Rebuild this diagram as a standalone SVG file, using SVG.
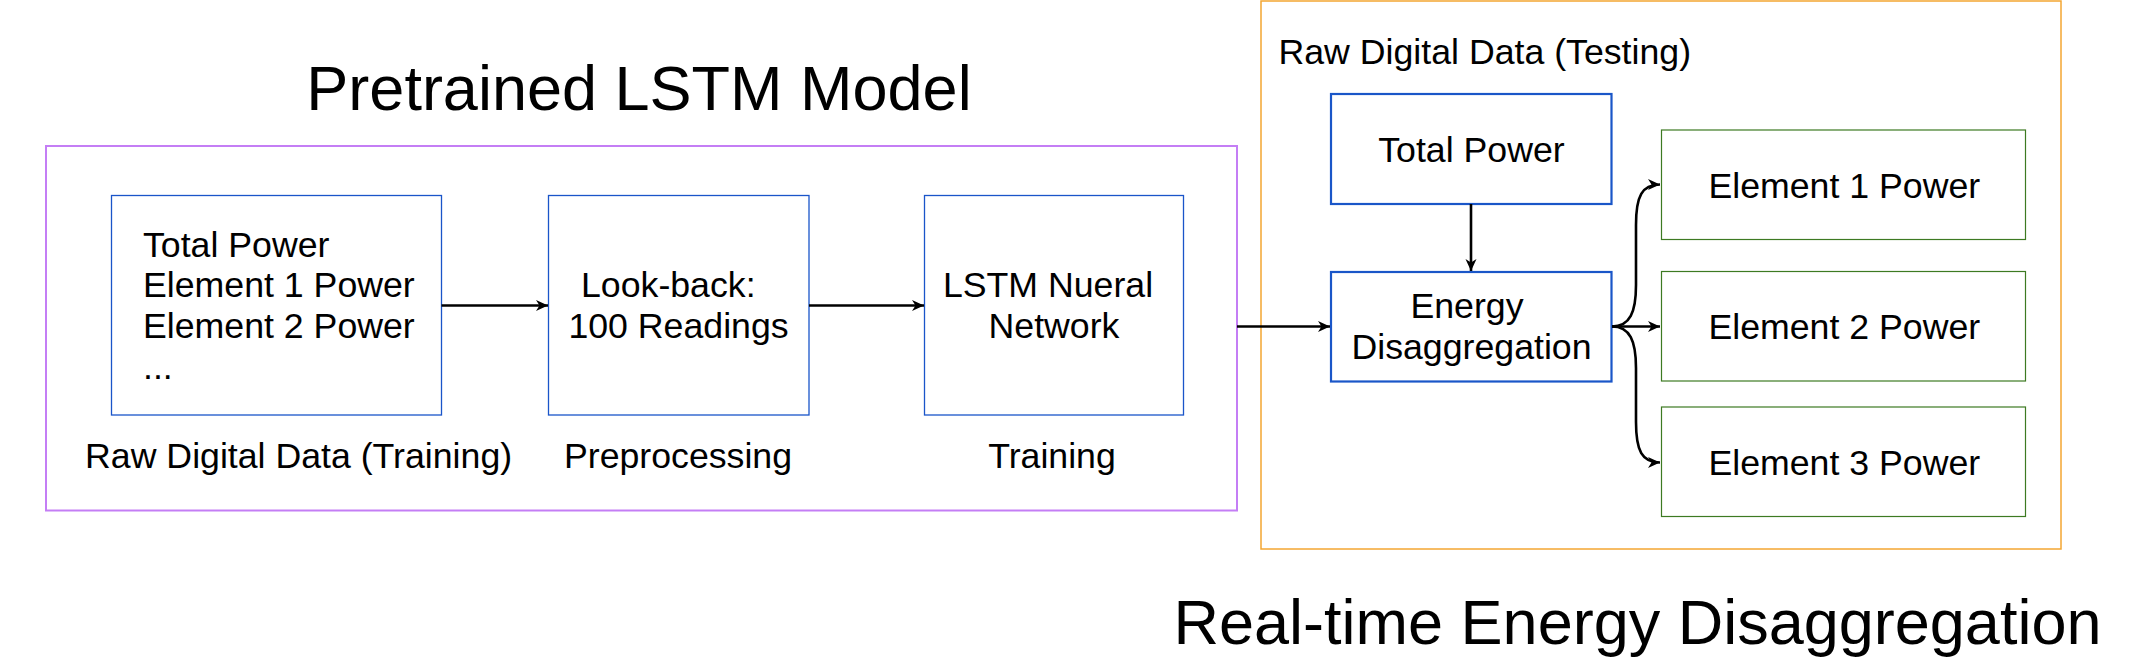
<svg xmlns="http://www.w3.org/2000/svg" width="2141" height="659" viewBox="0 0 2141 659">
<style>
text{font-family:"Liberation Sans",Arial,sans-serif;fill:#000}
.t{font-size:63px}
.s{font-size:35.7px}
.m{text-anchor:middle}
.b1{fill:#fff;stroke:#1a55c9;stroke-width:1.3}
.b2{fill:#fff;stroke:#1a56c8;stroke-width:2.2}
.g{fill:#fff;stroke:#3d7a22;stroke-width:1.2}
.c{fill:none;stroke:#000;stroke-width:2.6}
</style>
<defs>
<marker id="ah" markerUnits="userSpaceOnUse" markerWidth="14" markerHeight="12" refX="12" refY="6" orient="auto">
<path d="M0,0.5 L12,6 L0,11.5 L3.5,6 z" fill="#000"/>
</marker>
</defs>
<rect width="2141" height="659" fill="#fff"/>
<g id="container-training">
<rect x="46" y="146" width="1191" height="364.5" fill="none" stroke="#c47ef5" stroke-width="2"/>
<text class="t m" x="639" y="110">Pretrained LSTM Model</text>
</g>
<g id="container-testing">
<rect x="1261" y="1" width="800" height="548" fill="none" stroke="#f4a632" stroke-width="1.5"/>
<text class="s" x="1278.5" y="64">Raw Digital Data (Testing)</text>
</g>
<text class="t m" x="1637.5" y="643.5">Real-time Energy Disaggregation</text>
<g id="node-raw-training">
<rect class="b1" x="111.5" y="195.5" width="330" height="219.5"/>
<text class="s" x="143" y="256.7">Total Power</text>
<text class="s" x="143" y="297.3">Element 1 Power</text>
<text class="s" x="143" y="337.7">Element 2 Power</text>
<text class="s" x="143" y="378.5">...</text>
<text class="s m" x="298.6" y="467.5">Raw Digital Data (Training)</text>
</g>
<g id="node-preprocessing">
<rect class="b1" x="548.5" y="195.5" width="260.5" height="219.5"/>
<text class="s" x="581" y="296.5">Look-back:</text>
<text class="s m" x="678.5" y="337.5">100 Readings</text>
<text class="s m" x="678" y="467.5">Preprocessing</text>
</g>
<g id="node-training">
<rect class="b1" x="924.5" y="195.5" width="259" height="219.5"/>
<text class="s m" x="1048" y="296.5">LSTM Nueral</text>
<text class="s m" x="1054" y="337.5">Network</text>
<text class="s m" x="1052" y="467.5">Training</text>
</g>
<g id="node-total-power">
<rect class="b2" x="1331" y="94" width="280.5" height="110"/>
<text class="s m" x="1471.5" y="161.7">Total Power</text>
</g>
<g id="node-energy-disaggregation">
<rect class="b2" x="1331" y="272" width="280.5" height="109.5" stroke="#3d73d8"/>
<text class="s m" x="1467" y="318.3">Energy</text>
<text class="s m" x="1471.5" y="359.3">Disaggregation</text>
</g>
<g id="node-element1">
<rect class="g" x="1661.5" y="130" width="364" height="109.5" stroke="#8fb77e" stroke-width="1.6"/>
<text class="s m" x="1844.3" y="198.3">Element 1 Power</text>
</g>
<g id="node-element2">
<rect class="g" x="1661.5" y="271.5" width="364" height="109.5"/>
<text class="s m" x="1844.3" y="339">Element 2 Power</text>
</g>
<g id="node-element3">
<rect class="g" x="1661.5" y="407" width="364" height="109.5" stroke="#8fb77e" stroke-width="1.6"/>
<text class="s m" x="1844.3" y="475">Element 3 Power</text>
</g>
<g id="connectors">
<path class="c" d="M441.5,305.5 L548,305.5" marker-end="url(#ah)"/>
<path class="c" d="M809,305.5 L924,305.5" marker-end="url(#ah)"/>
<path class="c" d="M1237,326.5 L1330,326.5" marker-end="url(#ah)"/>
<path class="c" d="M1471,204 L1471,271" marker-end="url(#ah)"/>
<path class="c" d="M1612,326.5 L1660,326.5" marker-end="url(#ah)"/>
<path class="c" d="M1612,326.5 C1630,326.5 1636,312 1636,285 L1636,225 C1636,196 1642,184.5 1660,184.5" marker-end="url(#ah)"/>
<path class="c" d="M1612,326.5 C1630,326.5 1636,341 1636,368 L1636,422 C1636,451 1642,462.5 1660,462.5" marker-end="url(#ah)"/>
</g>
</svg>
